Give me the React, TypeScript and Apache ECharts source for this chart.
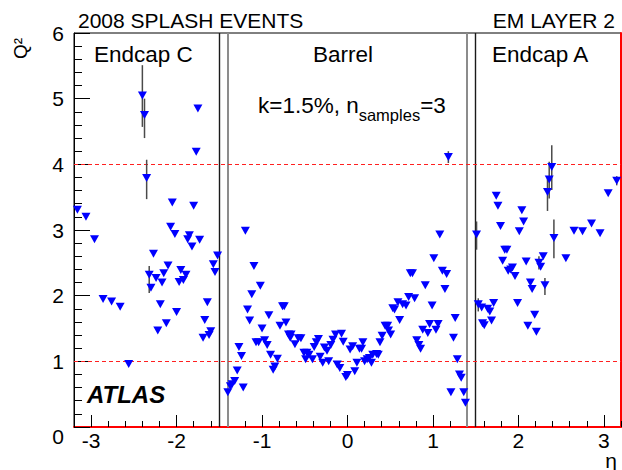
import React, { useEffect, useRef } from "react";
import * as echarts from "echarts";

// ---- data ----
const etaValues: number[] = [
  -3.16, -3.06, -2.96, -2.86, -2.76, -2.66, -2.56, -2.40, -2.375, -2.35,
  -2.32, -2.30, -2.27, -2.24, -2.22, -2.19, -2.17, -2.15, -2.12, -2.10,
  -2.07, -2.05, -2.02, -2.00, -1.97, -1.95, -1.92, -1.89, -1.87, -1.85,
  -1.82, -1.80, -1.77, -1.75, -1.73, -1.69, -1.67, -1.64, -1.62, -1.60,
  -1.57, -1.55, -1.52,
  -1.40, -1.37, -1.35, -1.32, -1.29, -1.27, -1.24, -1.22, -1.195, -1.17,
  -1.145, -1.12, -1.095, -1.07, -1.04, -1.02, -1.00, -0.97, -0.94, -0.92,
  -0.90, -0.87, -0.85, -0.82, -0.79, -0.76, -0.74, -0.72, -0.69, -0.67,
  -0.66, -0.615, -0.575, -0.545, -0.51, -0.49, -0.475, -0.45, -0.41, -0.39,
  -0.365, -0.34, -0.32, -0.29, -0.27, -0.24, -0.22, -0.195, -0.17, -0.14,
  -0.12, -0.09, -0.07, -0.05, -0.02, 0.0, 0.03, 0.06, 0.085, 0.11,
  0.14, 0.165, 0.18, 0.20, 0.23, 0.257, 0.28, 0.295, 0.34, 0.36,
  0.38, 0.405, 0.44, 0.47, 0.48, 0.505, 0.53, 0.55, 0.59, 0.61,
  0.645, 0.685, 0.715, 0.735, 0.76, 0.785, 0.81, 0.835, 0.855, 0.88,
  0.91, 0.94, 0.96, 0.99, 1.01, 1.035, 1.06, 1.08, 1.11, 1.14,
  1.16, 1.18, 1.21, 1.24, 1.26, 1.285, 1.31, 1.33, 1.36, 1.38,
  1.51, 1.53, 1.57, 1.58, 1.60, 1.64, 1.665, 1.685, 1.71, 1.74,
  1.76, 1.79, 1.815, 1.84, 1.865, 1.88, 1.91, 1.93, 1.96, 1.99,
  2.01, 2.04, 2.06, 2.09, 2.11, 2.14, 2.16, 2.19, 2.21, 2.24,
  2.26, 2.29, 2.31, 2.34, 2.36, 2.39, 2.415, 2.555, 2.65, 2.75,
  2.855, 2.955, 3.05, 3.15,
];
const q2Values: number[] = [
  3.31, 3.20, 2.86, 1.95, 1.91, 1.83, 0.96, 5.05, 4.75, 3.79,
  2.32, 2.12, 2.64, 2.27, 1.47, 1.87, 2.20, 2.34, 1.58, 2.46,
  3.05, 3.42, 2.94, 1.75, 2.21, 2.39, 2.24, 2.32, 2.86, 2.92,
  2.75, 3.37, 4.19, 4.85, 2.85, 1.36, 1.63, 1.90, 1.40, 1.46,
  2.48, 2.36, 2.61,
  0.53, 0.62, 0.65, 0.70, 0.86, 1.22, 1.08, 0.60, 2.99, 1.79,
  1.62, 2.02, 2.45, 1.29, 1.29, 2.15, 1.50, 1.32, 1.25, 1.70,
  1.10, 0.87, 0.92, 1.04, 1.54, 1.84, 1.84, 1.59, 1.41, 1.36,
  1.41, 1.26, 1.35, 1.35, 1.13, 1.03, 1.13, 1.10, 1.03, 1.22,
  1.29, 1.34, 1.07, 0.98, 1.21, 1.16, 1.00, 1.25, 1.33, 1.41,
  0.95, 0.90, 1.42, 1.30, 0.76, 0.79, 1.18, 1.23, 0.85, 0.98,
  1.19, 1.19, 1.29, 1.00, 1.03, 1.05, 0.98, 1.10, 1.11, 1.10,
  1.29, 1.39, 1.54, 1.54, 1.47, 1.41, 1.81, 1.79, 1.90, 1.63,
  1.87, 1.85, 1.98, 2.34, 2.34, 1.96, 1.32, 1.25, 1.19, 1.48,
  2.16, 1.43, 1.57, 1.85, 2.57, 1.48, 1.57, 2.93, 2.38, 2.10,
  2.33, 4.11, 0.53, 1.36, 1.66, 1.03, 0.80, 0.75, 0.53, 0.37,
  2.93, 1.87, 1.82, 1.58, 1.55, 1.80, 1.76, 1.62, 1.89, 3.52,
  3.37, 3.06, 2.53, 2.70, 2.70, 2.38, 2.40, 2.43, 2.30, 1.89,
  2.98, 3.30, 3.13, 2.52, 1.54, 2.20, 2.10, 1.71, 1.45, 2.50,
  2.44, 2.60, 2.16, 3.58, 3.77, 3.96, 2.88, 2.57, 2.99, 2.98,
  3.10, 2.95, 3.56, 3.75,
];

// error bars: eta, low, high
const errEta: number[] = [-2.40, -2.375, -2.35, -2.32, 1.18, 1.51, 2.39, 2.36, 2.34, 2.415, 2.31, 2.24, 1.53, 3.15];
const errLow: number[] = [4.57, 4.40, 3.47, 2.04, 4.02, 2.70, 3.61, 3.48, 3.29, 2.57, 2.01, 2.40, 1.76, 3.68];
const errHigh: number[] = [5.51, 5.00, 4.07, 2.45, 4.20, 3.13, 4.29, 4.04, 3.80, 3.16, 2.27, 2.60, 1.96, 3.82];

const xMajorTicks: number[] = [-3, -2, -1, 0, 1, 2, 3];
const regionBoundaries: number[] = [-1.5, -1.4, 1.4, 1.5];
const thresholdLines: number[] = [1, 4];
const X_MIN = -3.2;
const X_MAX = 3.2;

const FONT = "'Liberation Sans', Arial, Helvetica, sans-serif";

export default function App() {
  const ref = useRef<HTMLDivElement>(null);

  useEffect(() => {
    if (!ref.current) return;
    const chart = echarts.init(ref.current, null, { renderer: "svg" });

    const points = etaValues.map((e, i) => [e, q2Values[i]]);
    const errs = errEta.map((e, i) => [e, errLow[i], errHigh[i]]);

    const vLines = regionBoundaries.map((v) => ({
      xAxis: v,
      lineStyle:
        Math.abs(v) === 1.4
          ? { color: "#8c8c8c", width: 2, type: "solid" }
          : { color: "#1a1a1a", width: 1.4, type: "solid" },
    }));

    const option: any = {
      animation: false,
      backgroundColor: "#ffffff",
      grid: {
        left: 74,
        right: 1,
        top: 33,
        bottom: 43,
        show: true,
        borderColor: "#000",
        borderWidth: 1,
        backgroundColor: "transparent",
      },
      xAxis: [
        {
          type: "value",
          min: X_MIN,
          max: X_MAX,
          position: "bottom",
          splitLine: { show: false },
          axisLine: { show: true, onZero: false, lineStyle: { color: "#ff0000", width: 2 } },
          axisTick: {
            show: true,
            inside: true,
            length: 12,
            customValues: xMajorTicks,
            lineStyle: { color: "#000", width: 1 },
          },
          axisLabel: {
            show: true,
            customValues: xMajorTicks,
            margin: 3,
            color: "#000",
            fontSize: 21,
            fontFamily: FONT,
            formatter: (v: number) => (v < 0 ? "-" + Math.abs(v) : String(v)),
          },
        },
        {
          type: "value",
          min: X_MIN,
          max: X_MAX,
          interval: 0.2,
          position: "bottom",
          splitLine: { show: false },
          axisLine: { show: false, onZero: false },
          axisTick: { show: true, inside: true, length: 6, lineStyle: { color: "#000", width: 1 } },
          axisLabel: { show: false },
        },
      ],
      yAxis: [
        {
          type: "value",
          min: 0,
          max: 6,
          interval: 1,
          position: "left",
          splitLine: { show: false },
          axisLine: { show: true, onZero: false, lineStyle: { color: "#000", width: 1 } },
          axisTick: { show: true, inside: true, length: 16, lineStyle: { color: "#000", width: 1 } },
          minorTick: { show: true, splitNumber: 5, length: 8, lineStyle: { color: "#000", width: 1 } },
          minorSplitLine: { show: false },
          axisLabel: {
            margin: 10,
            color: "#000",
            fontSize: 21,
            fontFamily: FONT,
            formatter: (v: number) => (v === 0 ? "{z|0}" : String(v)),
            rich: { z: { fontSize: 21, fontFamily: FONT, color: "#000", padding: [18, 0, 0, 0] } },
          },
        },
        {
          type: "value",
          min: 0,
          max: 6,
          interval: 1,
          position: "right",
          splitLine: { show: false },
          axisLine: { show: true, onZero: false, lineStyle: { color: "#ff0000", width: 2 } },
          axisTick: { show: false },
          axisLabel: { show: false },
        },
      ],
      series: [
        {
          type: "custom",
          name: "thresholds",
          xAxisIndex: 0,
          yAxisIndex: 0,
          z: 2,
          silent: true,
          data: thresholdLines.map((v) => [v]),
          encode: { y: 0 },
          renderItem: (_params: any, api: any) => {
            const v = api.value(0);
            const p1 = api.coord([X_MIN, v]);
            const p2 = api.coord([X_MAX, v]);
            const y = Math.round(p1[1] - 0.5) + 0.5;
            return {
              type: "line",
              shape: { x1: p1[0], y1: y, x2: p2[0], y2: y },
              style: { stroke: "#ff2020", lineWidth: 1, lineDash: [4, 3] },
            };
          },
        },
        {
          type: "custom",
          name: "errors",
          xAxisIndex: 0,
          yAxisIndex: 0,
          z: 3,
          silent: true,
          data: errs,
          encode: { x: 0, y: [1, 2] },
          renderItem: (_params: any, api: any) => {
            const x = api.value(0);
            const p1 = api.coord([x, api.value(1)]);
            const p2 = api.coord([x, api.value(2)]);
            return {
              type: "line",
              shape: { x1: p1[0], y1: p1[1], x2: p2[0], y2: p2[1] },
              style: { stroke: "#4a4a4a", lineWidth: 1.5 },
            };
          },
        },
        {
          type: "scatter",
          xAxisIndex: 0,
          yAxisIndex: 0,
          z: 4,
          symbol: "triangle",
          symbolRotate: 180,
          symbolSize: [9, 8],
          itemStyle: { color: "#0000ff", opacity: 1 },
          data: points,
          markLine: {
            silent: true,
            symbol: "none",
            label: { show: false },
            z: 2,
            data: vLines,
          },
        },
      ],
      graphic: [
        {
          type: "text",
          style: {
            text: "2008 SPLASH EVENTS",
            x: 78,
            y: 20,
            align: "left",
            verticalAlign: "middle",
            fontSize: 21,
            fontFamily: FONT,
            fill: "#000",
          },
        },
        {
          type: "text",
          style: {
            text: "EM LAYER 2",
            x: 615,
            y: 20,
            align: "right",
            verticalAlign: "middle",
            fontSize: 21,
            fontFamily: FONT,
            fill: "#000",
          },
        },
        {
          type: "text",
          style: {
            text: "Endcap C",
            x: 94,
            y: 54,
            align: "left",
            verticalAlign: "middle",
            fontSize: 22.5,
            fontFamily: FONT,
            fill: "#000",
          },
        },
        {
          type: "text",
          style: {
            text: "Barrel",
            x: 343,
            y: 54,
            align: "center",
            verticalAlign: "middle",
            fontSize: 22.5,
            fontFamily: FONT,
            fill: "#000",
          },
        },
        {
          type: "text",
          style: {
            text: "Endcap A",
            x: 492,
            y: 54,
            align: "left",
            verticalAlign: "middle",
            fontSize: 22.5,
            fontFamily: FONT,
            fill: "#000",
          },
        },
        {
          type: "text",
          style: {
            text: "{m|k=1.5%, n}{s|samples}{m|=3}",
            x: 258,
            y: 105,
            align: "left",
            verticalAlign: "middle",
            fontFamily: FONT,
            fill: "#000",
            rich: {
              m: { fontSize: 22.5, fontFamily: FONT, fill: "#000" },
              s: { fontSize: 16.5, fontFamily: FONT, fill: "#000", padding: [20, 0, 0, 0] },
            },
          },
        },
        {
          type: "text",
          style: {
            text: "ATLAS",
            x: 87,
            y: 394,
            align: "left",
            verticalAlign: "middle",
            fontSize: 24,
            fontWeight: "bold",
            fontStyle: "italic",
            fontFamily: FONT,
            fill: "#000",
          },
        },
        {
          type: "text",
          style: {
            text: "η",
            x: 611,
            y: 460,
            align: "center",
            verticalAlign: "middle",
            fontSize: 21,
            fontFamily: FONT,
            fill: "#000",
          },
        },
        {
          type: "text",
          x: 20,
          y: 59,
          rotation: Math.PI / 2,
          style: {
            text: "Q²",
            x: 0,
            y: 0,
            align: "left",
            verticalAlign: "middle",
            fontSize: 19,
            fontFamily: FONT,
            fill: "#000",
          },
        },
      ],
    };

    chart.setOption(option);
    return () => chart.dispose();
  }, []);

  return (
    <div
      ref={ref}
      style={{ position: "absolute", left: 0, top: 0, width: 622, height: 470, background: "#fff" }}
    />
  );
}
